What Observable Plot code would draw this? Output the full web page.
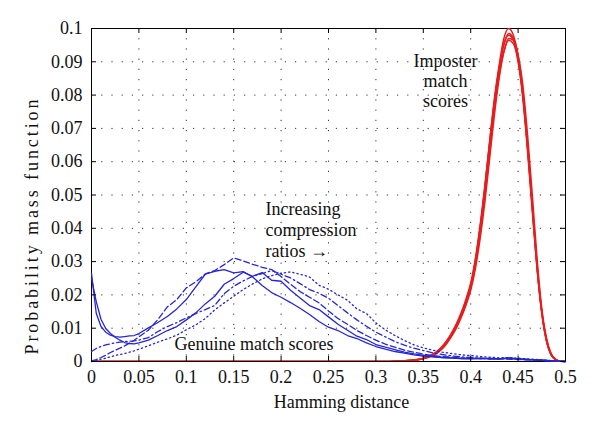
<!DOCTYPE html>
<html><head><meta charset="utf-8">
<script src="https://cdn.jsdelivr.net/npm/d3@7"></script>
<script src="https://cdn.jsdelivr.net/npm/@observablehq/plot@0.6"></script>
<style>body{margin:0;background:#fff}</style>
</head><body><div id="chart"></div>
<script>
// Hamming distance grid for the genuine distributions
const genuineX = [0,0.005,0.01,0.015,0.02,0.025,0.03,0.035,0.04,0.045,0.05,
  0.06,0.07,0.08,0.09,0.10,0.11,0.12,0.13,0.14,0.15,0.16,0.17,0.18,0.19,0.20,
  0.21,0.22,0.23,0.24,0.25,0.26,0.27,0.28,0.29,0.30,0.31,0.32,0.33,0.34,0.35,
  0.36,0.37,0.38,0.39,0.40,0.41,0.42,0.43,0.44,0.45,0.46,0.47,0.48,0.49,0.50];

const genuineSolidA = [0.0265,0.0145,0.0105,0.0088,0.0079,0.0075,0.0073,0.0075,0.0077,0.0078,0.0084,
  0.0101,0.0117,0.0135,0.0158,0.0186,0.0224,0.0262,0.0271,0.0276,0.0266,0.027,0.0254,0.0228,0.0207,0.0193,
  0.0177,0.016,0.0141,0.012,0.0103,0.0093,0.0078,0.0069,0.0056,0.0045,0.0037,0.003,0.0025,0.002,0.0016,
  0.0014,0.0012,0.001,0.0009,0.0008,0.001,0.0007,0.0008,0.0011,0.0007,0.0006,0.0005,0.0003,0.0001,0];
const genuineSolidB = [0.025,0.018,0.0127,0.0099,0.0084,0.0073,0.0064,0.0057,0.0054,0.0053,0.0056,
  0.0064,0.0078,0.0093,0.0105,0.0125,0.0146,0.0173,0.0196,0.0232,0.0249,0.0268,0.0256,0.0267,0.0244,0.0241,
  0.0214,0.0191,0.0168,0.0156,0.0134,0.0112,0.0094,0.0076,0.0066,0.0051,0.0043,0.0036,0.0028,0.0023,0.0018,
  0.0015,0.0012,0.0011,0.0009,0.0009,0.0008,0.001,0.0007,0.0011,0.0008,0.0006,0.0005,0.0003,0.0001,0];
const genuineDashed = [0.0002,0.0006,0.0012,0.0019,0.0027,0.0034,0.004,0.0047,0.0055,0.0064,0.0074,
  0.0094,0.0126,0.0164,0.0186,0.0221,0.0239,0.0263,0.0273,0.0291,0.0311,0.0302,0.0292,0.0283,0.0276,0.0255,
  0.0232,0.021,0.0193,0.0176,0.0152,0.0129,0.0112,0.0093,0.0078,0.0064,0.0052,0.0043,0.0034,0.0028,0.0022,
  0.0018,0.0015,0.0013,0.0011,0.001,0.0009,0.0008,0.0008,0.0007,0.0006,0.0005,0.0004,0.0002,0.0001,0];
const genuineDashDot = [0.003,0.0039,0.0045,0.005,0.0053,0.0056,0.0058,0.006,0.0061,0.0062,0.0064,
  0.0072,0.009,0.0105,0.0117,0.0131,0.0144,0.0156,0.0168,0.0204,0.0226,0.0242,0.0256,0.0264,0.0273,0.0262,
  0.0251,0.0234,0.0216,0.0205,0.019,0.0168,0.0146,0.0125,0.0106,0.0088,0.0074,0.006,0.0049,0.004,0.0033,
  0.0026,0.0021,0.0017,0.0014,0.0012,0.001,0.0009,0.0008,0.0008,0.0007,0.0006,0.0004,0.0003,0.0001,0];
const genuineDotted = [0,0.0003,0.0007,0.001,0.0014,0.0018,0.0021,0.0024,0.0028,0.0032,0.0037,
  0.0047,0.0058,0.0068,0.0079,0.0095,0.011,0.0129,0.0155,0.0176,0.0196,0.0216,0.0233,0.0248,0.0258,0.0265,
  0.0269,0.0262,0.0254,0.0229,0.0217,0.02,0.0184,0.0158,0.0144,0.0116,0.0095,0.0078,0.0063,0.005,0.0041,
  0.0034,0.0028,0.0024,0.002,0.0018,0.0015,0.0013,0.0011,0.0012,0.001,0.0008,0.0006,0.0004,0.0002,0];

// Hamming distance grid for the imposter distributions
const imposterX = [0,0.30,0.32,0.33,0.34,0.345,0.35,0.355,0.36,0.365,0.37,0.375,0.38,0.385,0.39,0.395,
  0.40,0.405,0.41,0.415,0.42,0.425,0.43,0.435,0.44,0.445,0.45,0.455,0.46,0.465,0.47,0.475,0.48,0.485,0.49,0.495,0.5];
const imposterA = [0,0,0.0001,0.0002,0.0004,0.0006,0.0009,0.0014,0.002,0.0029,0.0042,0.006,0.0082,0.0108,0.014,0.0178,
  0.0225,0.030,0.040,0.052,0.066,0.079,0.089,0.097,0.1,0.098,0.092,0.081,0.065,0.047,0.029,0.015,0.0065,0.002,0.0005,0.0001,0];
const imposterB = [0,0,0.0001,0.0002,0.0005,0.0007,0.001,0.0015,0.0022,0.0032,0.0046,0.0064,0.0087,0.0114,0.0147,0.0187,
  0.0236,0.031,0.041,0.053,0.066,0.078,0.088,0.095,0.0985,0.097,0.091,0.08,0.064,0.046,0.028,0.0145,0.006,0.002,0.0005,0.0001,0];
const imposterC = [0,0,0.0001,0.0002,0.0003,0.0005,0.0008,0.0012,0.0018,0.0026,0.0038,0.0055,0.0076,0.0101,0.0132,0.0169,
  0.0214,0.028,0.037,0.048,0.061,0.074,0.085,0.093,0.097,0.0965,0.092,0.083,0.068,0.05,0.031,0.016,0.007,0.0023,0.0006,0.0001,0];
const imposterD = [0,0,0.0001,0.0002,0.0004,0.0006,0.0009,0.0013,0.0019,0.0028,0.004,0.0058,0.008,0.0105,0.0137,0.0174,
  0.022,0.029,0.039,0.05,0.063,0.076,0.086,0.093,0.0965,0.0955,0.09,0.079,0.063,0.045,0.028,0.0145,0.0062,0.0019,0.0005,0.0001,0];
const imposterE = [0,0,0.0001,0.0002,0.0004,0.0006,0.0009,0.0014,0.0021,0.003,0.0044,0.0062,0.0084,0.011,0.0143,0.0182,
  0.023,0.0305,0.0405,0.0525,0.0655,0.078,0.088,0.0955,0.098,0.0965,0.0905,0.08,0.0645,0.0465,0.0285,0.0148,0.0063,0.002,0.0005,0.0001,0];

const xTicks = [0,0.05,0.1,0.15,0.2,0.25,0.3,0.35,0.4,0.45,0.5];
const yTicks = [0,0.01,0.02,0.03,0.04,0.05,0.06,0.07,0.08,0.09,0.1];

const FONT = '"Liberation Serif","Times New Roman",serif';
const W = 600, H = 437, mL = 91, mR = 35, mT = 28, mB = 76;
const frameW = W - mL - mR, frameH = H - mT - mB;
const BLUE = "#2626d2", RED = "#e61e1e";
const fmt = d => String(+d.toFixed(2));
const rows = (xs, ys, name) => xs.map((x, i) => ({x, y: ys[i], name}));

const imposters = [imposterA, imposterB, imposterC, imposterD, imposterE];
const genuine = [
  [genuineSolidA, null],
  [genuineSolidB, null],
  [genuineDashed, "6,3"],
  [genuineDashDot, "6,3,1.5,3"],
  [genuineDotted, "1.3,3"]
];

const gridStyle = {stroke: "#333", strokeOpacity: 1, strokeWidth: 1, strokeDasharray: "1.2,9"};
const yLabel = "Probability mass function";

const chart = Plot.plot({
  width: W, height: H,
  marginLeft: mL, marginRight: mR, marginTop: mT, marginBottom: mB,
  style: {fontFamily: FONT, fontSize: "18px", color: "#111", background: "#fff"},
  x: {domain: [0, 0.5]},
  y: {domain: [0, 0.1]},
  marks: [
    Plot.gridX(xTicks, gridStyle),
    Plot.gridY(yTicks, gridStyle),
    Plot.frame({stroke: "#000", strokeWidth: 1}),
    ...imposters.map(s => Plot.line(rows(imposterX, s, "imp"), {x: "x", y: "y", stroke: RED, strokeWidth: 1.5, curve: "monotone-x", clip: true})),
    ...genuine.map(([s, dash]) => Plot.line(rows(genuineX, s, "gen"), {x: "x", y: "y", stroke: BLUE, strokeWidth: 1.3, strokeDasharray: dash ?? undefined})),
    Plot.tickX(xTicks, {x: d => d, stroke: "#000", insetBottom: frameH - 5}),
    Plot.tickX(xTicks, {x: d => d, stroke: "#000", insetTop: frameH - 5}),
    Plot.tickY(yTicks, {y: d => d, stroke: "#000", insetRight: frameW - 5}),
    Plot.tickY(yTicks, {y: d => d, stroke: "#000", insetLeft: frameW - 5}),
    Plot.axisX({ticks: xTicks, tickSize: 0, tickPadding: 9, tickFormat: fmt, label: null}),
    Plot.axisY({ticks: yTicks, tickSize: 0, tickPadding: 9, tickFormat: fmt, label: null}),
    Plot.text(["Hamming distance"], {frameAnchor: "bottom", textAnchor: "middle", dx: 13, dy: 46, fontSize: 18, fill: "#111"}),
    Plot.text([yLabel], {frameAnchor: "left", textAnchor: "middle", rotate: -90, dx: -59, dy: 32, fontSize: 18, fill: "#111"}),
    Plot.text(["Imposter\nmatch\nscores"], {x: () => 0.3734, y: () => 0.0843, fontSize: 18, lineHeight: 1.1, fill: "#111"}),
    Plot.text(["Increasing\ncompression\nratios \u2192"], {x: () => 0.1835, y: () => 0.0396, textAnchor: "start", fontSize: 18, lineHeight: 1.17, fill: "#111"}),
    Plot.text(["Genuine match scores"], {x: () => 0.1714, y: () => 0.0051, fontSize: 18, fill: "#111"})
  ]
});
// widen the rotated axis title to the length it has in the reference
d3.select(chart).selectAll("text")
  .filter(function() { return this.textContent === yLabel; })
  .attr("textLength", 255).attr("lengthAdjust", "spacing");
document.getElementById("chart").appendChild(chart);
</script>
</body></html>
